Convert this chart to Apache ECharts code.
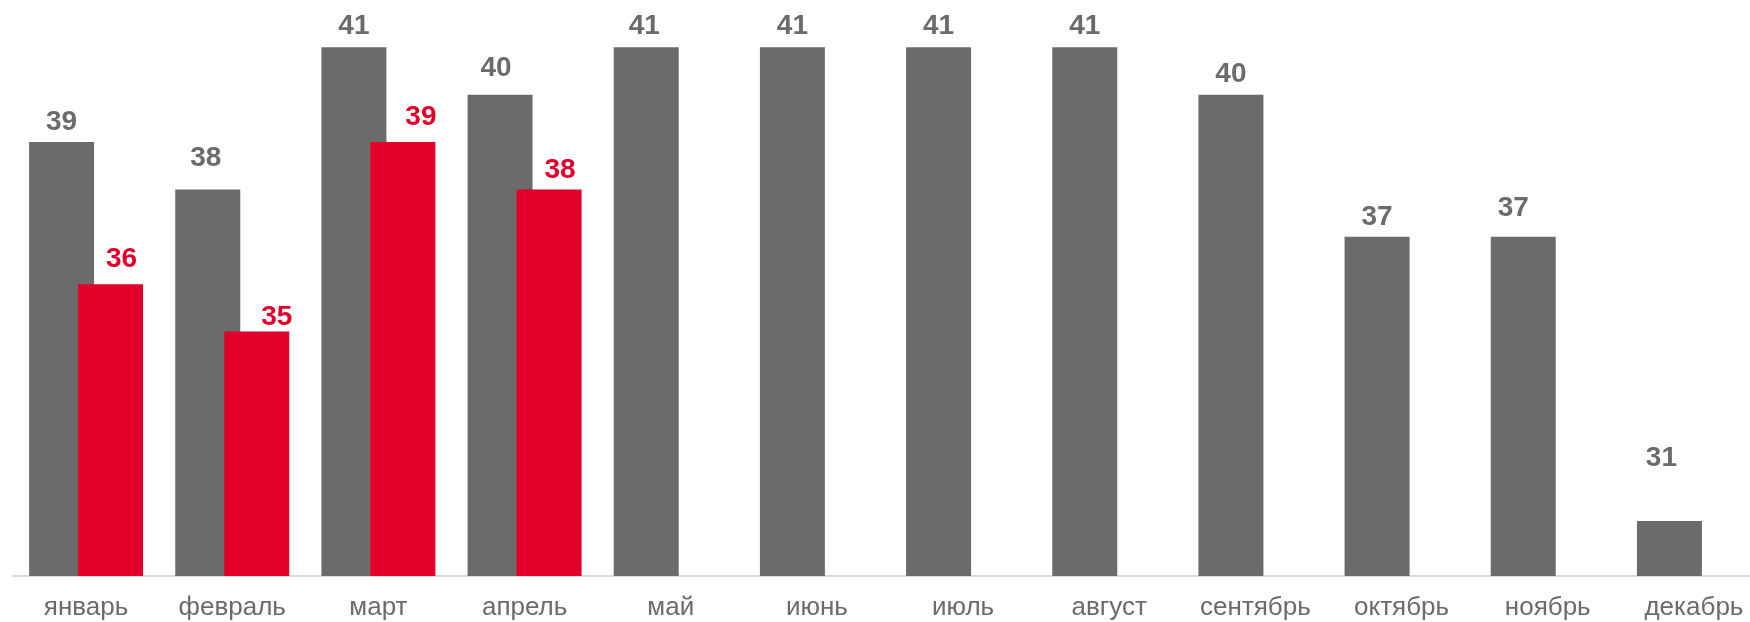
<!DOCTYPE html>
<html>
<head>
<meta charset="utf-8">
<script src="https://cdn.jsdelivr.net/npm/echarts@6/dist/echarts.min.js"></script>
<style>
html,body{margin:0;padding:0;background:#fff;overflow:hidden;width:1750px;height:622px;}
#c{width:1770px;height:622px;}
</style>
</head>
<body>
<div id="c"></div>
<script>
var categories = ['январь','февраль','март','апрель','май','июнь','июль','август','сентябрь','октябрь','ноябрь','декабрь'];
var seriesGrey = [39,38,41,40,41,41,41,41,40,37,37,31];
var seriesRed = [36,35,39,38,null,null,null,null,null,null,null,null];

// label nudges (style only), [dx, dy] in px
var greyLabelShift = [[0,0],[-2,-11],[0,-1],[-4,-6],[-2,-1],[0,-1],[0,-1],[0,-1],[0,0],[0,0],[-10,-9],[-8,-43]];
var redLabelShift = [[11,-5],[20,6],[18,-5],[11,1]];

var GREY = '#6b6b6b', RED = '#e2002b';
var FONT = 'Liberation Sans, Arial, sans-serif';

function build(values, shifts) {
  return values.map(function (v, i) {
    var s = shifts[i] || [0, 0];
    return { value: v, label: { offset: s } };
  });
}

var chart = echarts.init(document.getElementById('c'));
chart.setOption({
  animation:false,
  backgroundColor:'#ffffff',
  grid:{left:13, width:1754, top:0, bottom:46, containLabel:false, outerBoundsMode:'none'},
  xAxis:{
    type:'category',
    data:categories,
    axisLine:{show:true, lineStyle:{color:'#d9d9d9', width:2}},
    axisTick:{show:false},
    axisLabel:{color:GREY, fontSize:26, fontFamily:FONT, margin:19, interval:0}
  },
  yAxis:{
    type:'value', min:29.84, max:42,
    show:false, splitLine:{show:false}
  },
  series:[
    {type:'bar', data:build(seriesGrey, greyLabelShift), barWidth:65, barGap:'-24.6%',
     itemStyle:{color:GREY},
     label:{show:true, position:'top', distance:6, color:GREY, fontSize:28, fontWeight:'bold', fontFamily:FONT}},
    {type:'bar', data:build(seriesRed, redLabelShift), barWidth:65,
     itemStyle:{color:RED},
     label:{show:true, position:'top', distance:6, color:RED, fontSize:28, fontWeight:'bold', fontFamily:FONT}}
  ]
});
</script>
</body>
</html>
